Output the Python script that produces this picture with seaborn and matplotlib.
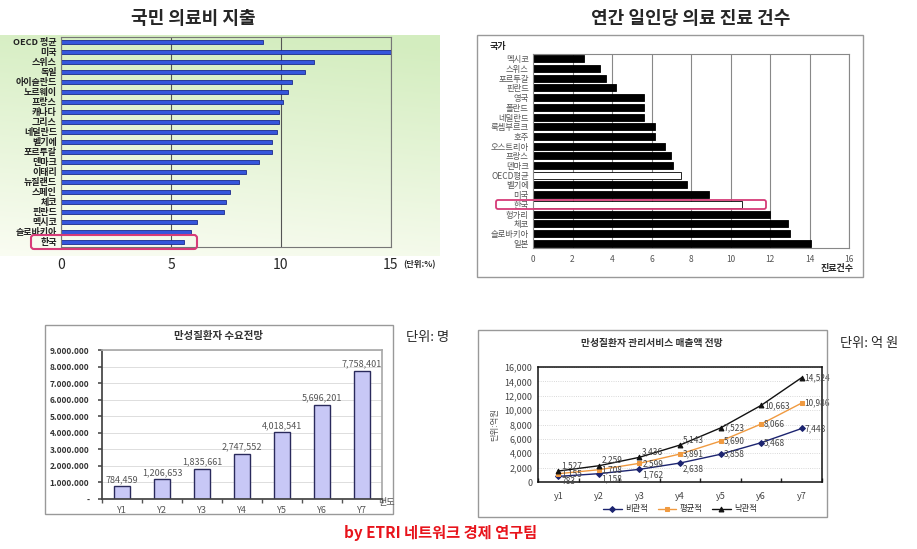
import numpy as np
import pandas as pd
import matplotlib.pyplot as plt
import seaborn as sns
from matplotlib.patches import Rectangle, FancyBboxPatch

# ---------------------------------------------------------
# data
# ---------------------------------------------------------
exp_countries = ['OECD 평균', '미국', '스위스', '독일', '아이슬란드', '노르웨이', '프랑스',
                 '캐나다', '그리스', '네덜란드', '벨기에', '포르투갈', '덴마크', '이태리',
                 '뉴질랜드', '스페인', '체코', '핀란드', '멕시코', '슬로바키아', '한국']
exp_values = [9.2, 15.0, 11.5, 11.1, 10.5, 10.3, 10.1, 9.9, 9.9, 9.8, 9.6, 9.6, 9.0,
              8.4, 8.1, 7.7, 7.5, 7.4, 6.2, 5.9, 5.6]

visit_countries = ['멕시코', '스위스', '포르투갈', '핀란드', '영국', '폴란드', '네덜란드',
                   '룩셈부르크', '호주', '오스트리아', '프랑스', '덴마크', 'OECD평균', '벨기에',
                   '미국', '한국', '헝가리', '체코', '슬로바키아', '일본']
visit_values = [2.6, 3.4, 3.7, 4.2, 5.6, 5.6, 5.6, 6.2, 6.2, 6.7, 7.0, 7.1, 7.5, 7.8,
                8.9, 10.6, 12.0, 12.9, 13.0, 14.1]

demand_years = ['Y1', 'Y2', 'Y3', 'Y4', 'Y5', 'Y6', 'Y7']
demand_values = [784459, 1206653, 1835661, 2747552, 4018541, 5696201, 7758401]

sales_years = ['y1', 'y2', 'y3', 'y4', 'y5', 'y6', 'y7']
sales_pess = [783, 1158, 1762, 2638, 3858, 5468, 7448]
sales_avg = [1155, 1708, 2599, 3891, 5690, 8066, 10986]
sales_opt = [1527, 2259, 3436, 5143, 7523, 10663, 14524]

# ---------------------------------------------------------
# style
# ---------------------------------------------------------
sns.set_theme(style='white')
plt.rcParams['font.family'] = ['Noto Sans CJK KR', 'DejaVu Sans']
plt.rcParams['axes.unicode_minus'] = False

W, H = 917, 549
fig = plt.figure(figsize=(W / 100, H / 100), dpi=100)


def add_ax(l, t, r, b, **kw):
    # 픽셀 좌표로 axes 배치
    return fig.add_axes([l / W, 1 - b / H, (r - l) / W, (b - t) / H], **kw)


# ---------------------------------------------------------
# 1. 국민 의료비 지출 (top-left)
# ---------------------------------------------------------
bg = add_ax(0, 35, 440, 256, zorder=0)
gy, gx = np.mgrid[0:1:120j, 0:1:200j]
top_c = np.array([0.83, 0.93, 0.75])
bot_c = np.array([0.98, 0.99, 0.95])
t = np.clip(gy * 0.9 + (1 - gx) * 0.15 - 0.05, 0, 1)[..., None]
grad = top_c * (1 - t) + bot_c * t
bg.imshow(grad, aspect='auto', extent=[0, 1, 0, 1], origin='upper')
bg.axis('off')

ax1 = add_ax(61, 37, 391, 247, zorder=1)
ax1.set_facecolor('none')
sns.barplot(x=exp_values, y=exp_countries, orient='h', color='#3556dc',
            edgecolor='#1b2a8c', linewidth=0.6, width=0.45, saturation=1, ax=ax1)
ax1.set_xlim(0, 15)
ax1.set_ylim(20.5, -0.5)
ax1.set_xticks([0, 5, 10, 15])
ax1.grid(axis='x', color='#555555', lw=0.8)
ax1.tick_params(axis='x', length=0, pad=8, labelsize=10)
ax1.tick_params(axis='y', length=0, pad=3, labelsize=6.5, labelcolor='#222222')
for lab in ax1.get_yticklabels():
    lab.set_fontweight('bold')
for s in ax1.spines.values():
    s.set_color('#777777')
    s.set_linewidth(0.8)
ax1.set_xlabel('')
ax1.set_ylabel('')

# ---------------------------------------------------------
# 2. 연간 일인당 의료 진료 건수 (top-right)
# ---------------------------------------------------------
ax2 = add_ax(533, 54, 849, 248, zorder=1)
bar_cols = ['white' if c in ('OECD평균', '한국') else 'black' for c in visit_countries]
sns.barplot(x=visit_values, y=visit_countries, hue=visit_countries, palette=bar_cols,
            legend=False, orient='h', edgecolor='black', linewidth=0.6, width=0.72,
            saturation=1, ax=ax2)
ax2.set_xlim(0, 16)
ax2.set_ylim(19.5, -0.5)
ax2.set_xticks(np.arange(0, 17, 2))
ax2.grid(axis='x', color='#888888', lw=0.8)
ax2.set_axisbelow(True)
ax2.tick_params(axis='x', length=0, pad=5, labelsize=6, labelcolor='#555555')
ax2.tick_params(axis='y', length=0, pad=3, labelsize=6, labelcolor='#555555')
for s in ax2.spines.values():
    s.set_color('#888888')
    s.set_linewidth(0.8)
ax2.set_xlabel('')
ax2.set_ylabel('')

# ---------------------------------------------------------
# 3. 만성질환자 수요전망 (bottom-left)
# ---------------------------------------------------------
ax3 = add_ax(102, 350, 382, 499, zorder=1)
sns.barplot(x=demand_years, y=demand_values, color='#c8c8f6', edgecolor='#2a2a5c',
            linewidth=1.0, width=0.4, saturation=1, ax=ax3)
ax3.set_ylim(0, 9000000)
ax3.set_xlim(-0.5, 6.5)
yt = np.arange(0, 9000001, 1000000)
ax3.set_yticks(yt)
ax3.set_yticklabels(['-' if v == 0 else f'{v:,}'.replace(',', '.') for v in yt],
                    fontsize=6, fontweight='bold', color='#333333')
ax3.grid(axis='y', color='#dddddd', lw=0.7)
ax3.set_axisbelow(True)
ax3.set_xticks(np.arange(-0.5, 7, 1), minor=True)
ax3.tick_params(axis='x', which='major', length=0, pad=5, labelsize=6.5, labelcolor='#555555')
ax3.tick_params(axis='x', which='minor', length=3, bottom=True, color='#555555')
ax3.tick_params(axis='y', length=3, left=True, color='#555555', pad=6)
for i, v in enumerate(demand_values):
    ax3.text(i, v + 120000, f'{v:,}', ha='center', va='bottom', fontsize=6.5, color='#555555')
for k in ['left', 'bottom']:
    ax3.spines[k].set_color('#444444')
for k in ['top', 'right']:
    ax3.spines[k].set_color('#aaaaaa')
ax3.set_xlabel('')
ax3.set_ylabel('')

# ---------------------------------------------------------
# 4. 만성질환자 관리서비스 매출액 전망 (bottom-right)
# ---------------------------------------------------------
ax4 = add_ax(538, 367, 822, 482, zorder=1)
series = [
    ('비관적', sales_pess, '#1c2470', 'D', 3, 'top', -150),
    ('평균적', sales_avg, '#f09a40', 's', 3.5, 'center', 0),
    ('낙관적', sales_opt, '#111111', '^', 3.5, 'bottom', 150),
]
for name, vals, col, mk, ms, va, dy in series:
    sns.lineplot(x=sales_years, y=vals, color=col, marker=mk, markersize=ms,
                 markeredgecolor=col, lw=1.0, label=name, sort=False, ax=ax4)
    for i, v in enumerate(vals):
        # 앞쪽 구간은 겹치므로 위/아래로 살짝 분리
        off = dy if i < 4 else 0
        ax4.text(i + 0.07, v + off, f'{v:,}', ha='left', va=va if i < 4 else 'center',
                 fontsize=6, color='#444444')
ax4.set_xlim(-0.5, 6.5)
ax4.set_ylim(0, 16000)
ax4.set_yticks(np.arange(0, 16001, 2000))
ax4.set_yticklabels([f'{v:,}' for v in range(0, 16001, 2000)])
ax4.grid(axis='y', color='#cccccc', lw=0.6, ls=':')
ax4.set_xticks(np.arange(-0.5, 7, 1), minor=True)
ax4.tick_params(axis='x', which='major', length=0, pad=7, labelsize=6.5, labelcolor='#444444')
ax4.tick_params(axis='x', which='minor', length=3, direction='in', bottom=True)
ax4.tick_params(axis='y', length=0, pad=4, labelsize=6.5, labelcolor='#444444')
for s in ax4.spines.values():
    s.set_color('#111111')
    s.set_linewidth(1.1)
ax4.set_xlabel('')
ax4.set_ylabel('단위:억원', fontsize=6, color='#555555', labelpad=4)
ax4.legend(loc='center', bbox_to_anchor=(680 / W, 1 - 509 / H), bbox_transform=fig.transFigure,
           ncol=3, frameon=False, fontsize=6, handlelength=2.2, columnspacing=1.2,
           handletextpad=0.4)

# ---------------------------------------------------------
# overlay: 제목, 테두리, 강조 박스
# ---------------------------------------------------------
ov = fig.add_axes([0, 0, 1, 1], zorder=10)
ov.set_xlim(0, W)
ov.set_ylim(H, 0)
ov.axis('off')

ov.text(193, 18, '국민 의료비 지출', ha='center', va='center', fontsize=13, fontweight='bold')
ov.text(691, 18, '연간 일인당 의료 진료 건수', ha='center', va='center', fontsize=13,
        fontweight='bold')
ov.text(420, 265, '(단위:%)', ha='center', va='center', fontsize=6, fontweight='bold')

ov.add_patch(Rectangle((477, 35), 386, 242, fill=False, ec='#999999', lw=1))
ov.text(490, 46, '국가', ha='left', va='center', fontsize=6.5, fontweight='bold')
ov.text(837, 269, '진료건수', ha='center', va='center', fontsize=6.5, fontweight='bold')

ov.add_patch(FancyBboxPatch((31, 235), 166, 14, boxstyle='round,pad=0,rounding_size=3',
                            fill=False, ec='#d63c78', lw=1.5))
ov.add_patch(FancyBboxPatch((496, 200), 270, 9, boxstyle='round,pad=0,rounding_size=2',
                            fill=False, ec='#d63c78', lw=1.3))

ov.add_patch(Rectangle((45, 325), 348, 189, fill=False, ec='#999999', lw=1))
ov.text(218, 336, '만성질환자 수요전망', ha='center', va='center', fontsize=7.5,
        fontweight='bold', color='#333333')
ov.text(386, 503, '년도', ha='center', va='center', fontsize=6.5, color='#555555')
ov.text(428, 338, '단위: 명', ha='center', va='center', fontsize=9.5)

ov.add_patch(Rectangle((478, 330), 349, 187, fill=False, ec='#999999', lw=1))
ov.text(652, 343, '만성질환자 관리서비스 매출액 전망', ha='center', va='center', fontsize=7,
        fontweight='bold', color='#333333')
ov.text(869, 343, '단위: 억 원', ha='center', va='center', fontsize=9.5)

ov.text(441, 533, 'by ETRI 네트워크 경제 연구팀', ha='center', va='center', fontsize=11,
        fontweight='bold', color='#e8141c')

plt.savefig('out.png', dpi=100)
